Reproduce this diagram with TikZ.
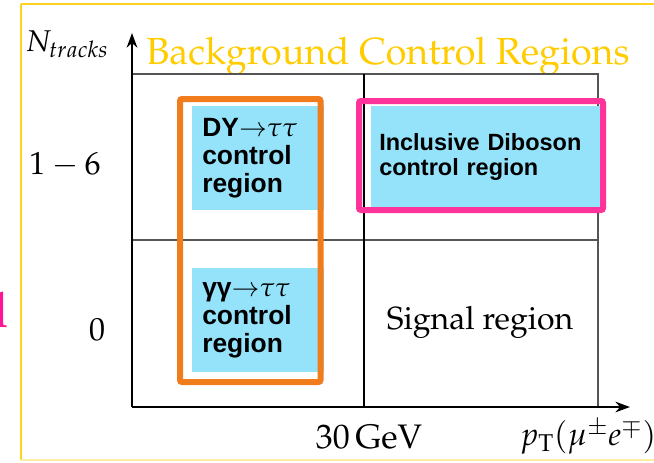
\documentclass[tikz,border=0pt]{standalone}
\usepackage[T1]{fontenc}
\usepackage{mathpazo}
\usepackage[no-math]{fontspec}
\newfontfamily\sansbold{Liberation Sans}[BoldFont={Liberation Sans Bold}]
\usetikzlibrary{arrows.meta}
\newcommand{\pala}{\fontencoding{T1}\fontfamily{ppl}\selectfont}
\newcommand{\boxtxt}{\sansbold\bfseries\fontsize{19.8}{21}\selectfont}
\definecolor{framey}{HTML}{FFD21F}
\definecolor{titley}{HTML}{FFCC00}
\definecolor{boxblue}{HTML}{94E3FB}
\definecolor{crorange}{HTML}{F07C1C}
\definecolor{crpink}{HTML}{FF3399}
\definecolor{cutpink}{HTML}{FF1493}
\definecolor{gridgrey}{HTML}{555555}

\begin{document}
\begin{tikzpicture}[x=0.75pt, y=-0.75pt,
    region/.style = {fill=boxblue, inner sep=0pt, inner xsep=#1,
                align=left, anchor=north west},
    region/.default = 7.5pt,
    frame/.style = {draw=#1, line width=4.5pt, rounded corners=1.5pt},
    lbl/.style = {inner sep=0pt, font=\pala\fontsize{24}{26}\selectfont},
    axis/.style = {black, line width=1.5pt, -{Stealth[length=11pt, width=8pt]}}
                    ]
    \def\xo{132}
    \def\yo{407}
    \def\xm{364}
    \def\xr{598}
    \def\ym{240}
    \def\yt{74}
    \useasboundingbox (0,0) rectangle (654,462);
    % slide frame
    \coordinate (fa) at (21,4);
    \coordinate (fb) at (21,460);
    \coordinate (fc) at (654,4);
    \coordinate (fd) at (654,460);
    \draw[framey, line width=1.5pt] (fa) -- (fc);
    \draw[framey, line width=1.5pt] (fa) -- (fb);
    \draw[framey!40, line width=1.5pt] (fb) -- (fd);
    \begin{scope}
    \clip (0,0) rectangle (654,462);
    \node[text=cutpink, inner sep=0pt, anchor=base east,
          font=\pala\bfseries\fontsize{37}{37}\selectfont] (cut) at (9,327) {l};
    \end{scope}
    \node[text=titley, inner sep=0pt, anchor=base,
          font=\pala\fontsize{28.3}{30}\selectfont] (title) at (388,64)
          {Background Control Regions};
    % axes and grid
    \coordinate (o) at (\xo,\yo);
    \coordinate (ytip) at (\xo,33);
    \coordinate (xtip) at (630,\yo);
    \coordinate (tl) at (\xo,\yt);
    \coordinate (tr) at (\xr,\yt);
    \coordinate (br) at (\xr,\yo);
    \coordinate (ml) at (\xo,\ym);
    \coordinate (mr) at (\xr,\ym);
    \coordinate (mt) at (\xm,\yt);
    \coordinate (mb) at (\xm,\yo);
    \draw[gridgrey, line width=1.2pt] (tl) -- (tr) -- (br);
    \draw[gridgrey, line width=1.2pt] (ml) -- (mr);
    \draw[black, line width=1.5pt] (mt) -- (mb);
    \draw[axis] (o) -- (ytip);
    \draw[axis] (o) -- (xtip);
    % axis labels
    \node[lbl, font=\pala\fontsize{22.5}{24}\selectfont] (ny) at (67,44) {$N_{tracks}$};
    \node[lbl] (hi) at (65,165) {$1-6$};
    \node[lbl] (lo) at (97,330) {$0$};
    \node[lbl, font=\pala\fontsize{25.5}{27}\selectfont] (cut30) at (369,437) {30\,GeV};
    \node[lbl] (pt) at (588,437) {$p_{\mathrm{T}}(\mu^{\pm}e^{\mp})$};
    % regions
    \node[region=7.5pt, minimum width=91.5pt, minimum height=78pt,
          text width=84pt, font=\boxtxt] (dy) at (192,106)
          {DY${\rightarrow}\tau\tau$\\control\\region};
    \node[region=7.5pt, minimum width=91.5pt, minimum height=78pt,
          text width=84pt, font=\boxtxt] (gg) at (192,268)
          {γγ${\rightarrow}\tau\tau$\\control\\region};
    \node[region=6pt, minimum width=166.5pt, minimum height=76.5pt,
          text width=160pt, font=\sansbold\bfseries\fontsize{17.6}{18.8}\selectfont]
          (vv) at (371,106) {Inclusive Diboson\\control region};
    \node[inner sep=0pt, font=\pala\fontsize{24}{26}\selectfont] (sig) at (480,322)
          {Signal region};
    \draw[frame=crorange] (180,99) rectangle (320.5,382);
    \draw[frame=crpink] (359,101) rectangle (603,210);
\end{tikzpicture}
\end{document}
